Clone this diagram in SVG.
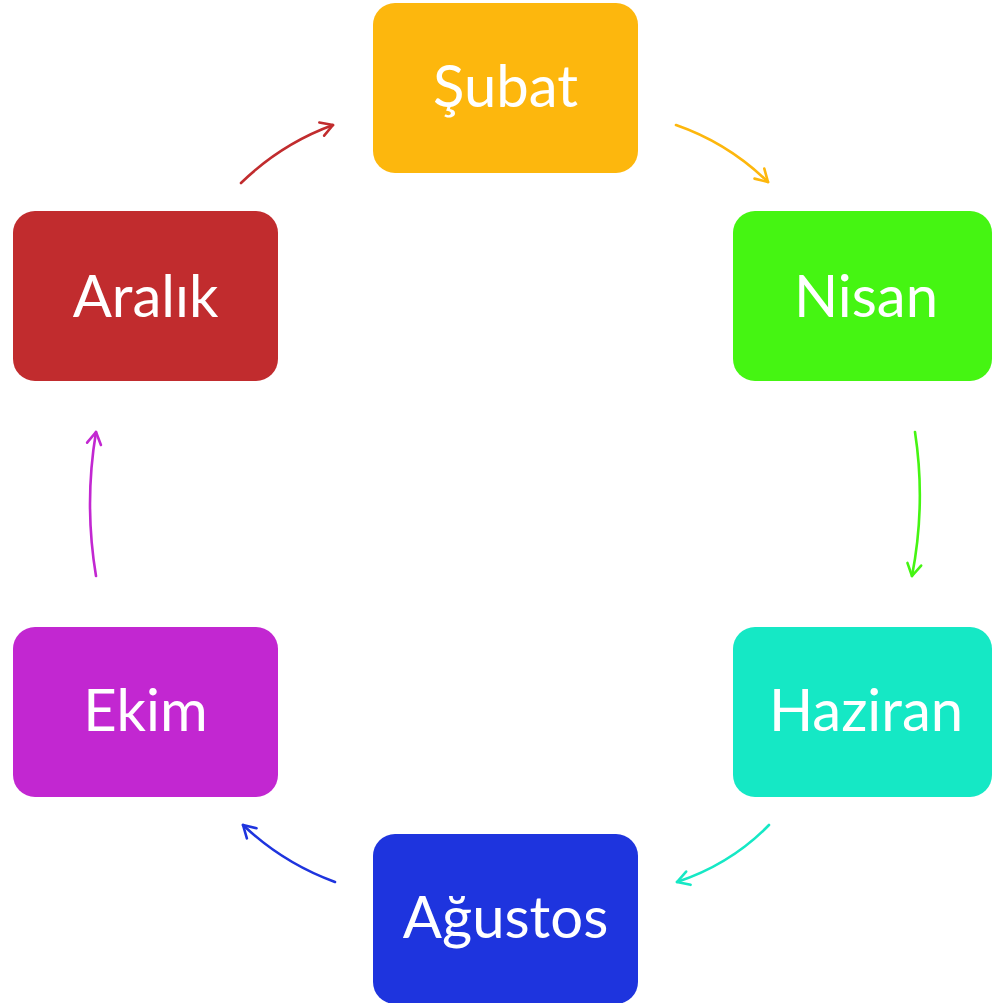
<svg xmlns="http://www.w3.org/2000/svg" width="992" height="1003" viewBox="0 0 992 1003">
<style>
.lbl{font-family:Lato,"Open Sans","Liberation Sans",sans-serif;font-size:58px;fill:#fff;text-anchor:middle}
.c{fill:none;stroke-width:2.6;stroke-linecap:round}
</style>
<defs>
<marker id="mr" markerUnits="userSpaceOnUse" markerWidth="30" markerHeight="30" refX="0" refY="0" viewBox="-15 -15 30 30" orient="auto"><path d="M-12,-7 L0,0 L-12,7" fill="none" stroke="#C12C2E" stroke-width="2.6" stroke-linecap="round" stroke-linejoin="round"/></marker>
<marker id="mo" markerUnits="userSpaceOnUse" markerWidth="30" markerHeight="30" refX="0" refY="0" viewBox="-15 -15 30 30" orient="auto"><path d="M-12,-7 L0,0 L-12,7" fill="none" stroke="#FDB70D" stroke-width="2.6" stroke-linecap="round" stroke-linejoin="round"/></marker>
<marker id="mg" markerUnits="userSpaceOnUse" markerWidth="30" markerHeight="30" refX="0" refY="0" viewBox="-15 -15 30 30" orient="auto"><path d="M-12,-7 L0,0 L-12,7" fill="none" stroke="#45F512" stroke-width="2.6" stroke-linecap="round" stroke-linejoin="round"/></marker>
<marker id="mt" markerUnits="userSpaceOnUse" markerWidth="30" markerHeight="30" refX="0" refY="0" viewBox="-15 -15 30 30" orient="auto"><path d="M-12,-7 L0,0 L-12,7" fill="none" stroke="#15E8C5" stroke-width="2.6" stroke-linecap="round" stroke-linejoin="round"/></marker>
<marker id="mb" markerUnits="userSpaceOnUse" markerWidth="30" markerHeight="30" refX="0" refY="0" viewBox="-15 -15 30 30" orient="auto"><path d="M-12,-7 L0,0 L-12,7" fill="none" stroke="#1E34DE" stroke-width="2.6" stroke-linecap="round" stroke-linejoin="round"/></marker>
<marker id="mm" markerUnits="userSpaceOnUse" markerWidth="30" markerHeight="30" refX="0" refY="0" viewBox="-15 -15 30 30" orient="auto"><path d="M-12,-7 L0,0 L-12,7" fill="none" stroke="#C227D1" stroke-width="2.6" stroke-linecap="round" stroke-linejoin="round"/></marker>
</defs>
<rect width="992" height="1003" fill="#fff"/>
<g id="connectors">
<path class="c" stroke="#C12C2E" marker-end="url(#mr)" d="M241,183 Q281,144 333,125"/>
<path class="c" stroke="#FDB70D" marker-end="url(#mo)" d="M676,125 Q728,143 768,182"/>
<path class="c" stroke="#45F512" marker-end="url(#mg)" d="M915,432 Q926,504 912,576"/>
<path class="c" stroke="#15E8C5" marker-end="url(#mt)" d="M769,825 Q731,864 677,882"/>
<path class="c" stroke="#1E34DE" marker-end="url(#mb)" d="M335,882 Q283,863 243,825"/>
<path class="c" stroke="#C227D1" marker-end="url(#mm)" d="M96,576 Q84,504 96,432"/>
</g>
<g id="subat"><rect x="373" y="3" width="265" height="170" rx="22" fill="#FDB70D"/><text class="lbl" x="505.5" y="107">Şubat</text></g>
<g id="nisan"><rect x="733" y="211" width="259" height="170" rx="22" fill="#45F512"/><text class="lbl" x="866" y="317">Nisan</text></g>
<g id="haziran"><rect x="733" y="627" width="259" height="170" rx="22" fill="#15E8C5"/><text class="lbl" x="866" y="731">Haziran</text></g>
<g id="agustos"><rect x="373" y="834" width="265" height="170" rx="22" fill="#1E34DE"/><text class="lbl" x="505.5" y="938">Ağustos</text></g>
<g id="ekim"><rect x="13" y="627" width="265" height="170" rx="22" fill="#C227D1"/><text class="lbl" x="145.5" y="731">Ekim</text></g>
<g id="aralik"><rect x="13" y="211" width="265" height="170" rx="22" fill="#C12C2E"/><text class="lbl" x="145.5" y="317">Aralık</text></g>
</svg>
